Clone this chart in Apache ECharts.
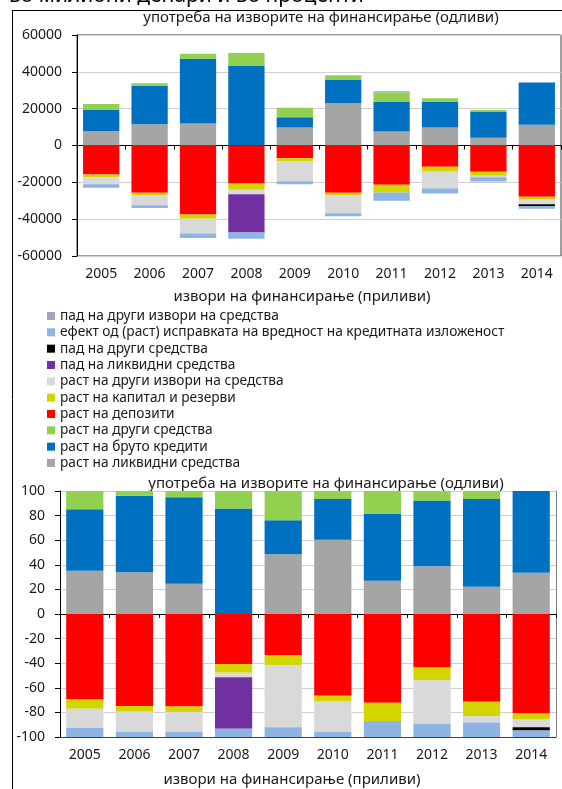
<!DOCTYPE html>
<html>
<head>
<meta charset="utf-8">
<script src="https://cdn.jsdelivr.net/npm/echarts@6/dist/echarts.min.js"></script>
<style>
  html, body { margin: 0; padding: 0; background: #fff; }
  #chart { width: 562px; height: 789px; }
</style>
</head>
<body>
<div id="chart"></div>
<script>
// години
const years = ['2005', '2006', '2007', '2008', '2009', '2010', '2011', '2012', '2013', '2014']
const yTicksAbs = [-60000, 60000, 20000]
const yTicksPct = [-100, 100, 20]

// во милиони денари (употреба = позитивно, извори = негативно)
const liquidGrowth = [7800, 11500, 12000, 0, 9800, 22900, 7600, 9800, 4200, 11300]
const loansGrowth = [11500, 20900, 35100, 43100, 5600, 12700, 16000, 13800, 14000, 22900]
const otherAssetsGrowth = [3200, 1400, 2700, 7100, 5100, 2500, 5300, 2000, 1100, 0]
const otherSourcesFall = [0, 0, 0, 0, 0, 0, 600, 0, 0, 0]
const deposits = [-15800, -25600, -37500, -20700, -6900, -25600, -21300, -11500, -14200, -27800]
const capital = [-1500, -1500, -2300, -3300, -1800, -1600, -4200, -2700, -2200, -1600]
const otherSourcesGrowth = [-3800, -5400, -8000, -2500, -10700, -9600, 0, -9100, -900, -2500]
const liquidFall = [0, 0, 0, -20800, 0, 0, 0, 0, 0, 0]
const otherAssetsFall = [0, 0, 0, 0, 0, 0, 0, 0, 0, -1100]
const impairment = [-1800, -1500, -2400, -3400, -1600, -1600, -4500, -2700, -2300, -1400]

// во проценти
const liquidGrowthPct = [35.1, 34.0, 24.6, 0, 48.6, 60.3, 27.0, 38.9, 22.2, 33.5]
const loansGrowthPct = [50.0, 62.2, 70.3, 85.7, 27.6, 33.2, 54.6, 53.3, 71.3, 66.5]
const otherAssetsGrowthPct = [14.9, 3.8, 5.1, 14.3, 23.8, 6.5, 18.4, 7.8, 6.5, 0]
const otherSourcesFallPct = [0, 0, 0, 0, 0, 0, 0, 0, 0, 0]
const depositsPct = [-69.1, -74.8, -75.3, -40.7, -33.3, -66.4, -72.1, -43.4, -71.3, -80.8]
const capitalPct = [-7.9, -4.6, -4.4, -7.0, -8.4, -4.3, -14.9, -10.5, -11.9, -4.6]
const otherSourcesGrowthPct = [-15.4, -16.3, -16.0, -3.8, -50.4, -25.2, 0, -35.3, -5.1, -6.7]
const liquidFallPct = [0, 0, 0, -41.7, 0, 0, 0, 0, 0, 0]
const otherAssetsFallPct = [0, 0, 0, 0, 0, 0, 0, 0, 0, -2.7]
const impairmentPct = [-7.6, -4.3, -4.3, -6.8, -7.9, -4.1, -13.0, -10.8, -11.7, -5.2]

const seriesDefs = [
  { name: 'раст на ликвидни средства', color: '#A5A5A5', abs: liquidGrowth, pct: liquidGrowthPct },
  { name: 'раст на бруто кредити', color: '#0070C0', abs: loansGrowth, pct: loansGrowthPct },
  { name: 'раст на други средства', color: '#92D050', abs: otherAssetsGrowth, pct: otherAssetsGrowthPct },
  { name: 'раст на депозити', color: '#FF0000', abs: deposits, pct: depositsPct },
  { name: 'раст на капитал и резерви', color: '#D4D400', abs: capital, pct: capitalPct },
  { name: 'раст на други извори на средства', color: '#D9D9D9', abs: otherSourcesGrowth, pct: otherSourcesGrowthPct },
  { name: 'пад на ликвидни средства', color: '#7030A0', abs: liquidFall, pct: liquidFallPct },
  { name: 'пад на други средства', color: '#000000', abs: otherAssetsFall, pct: otherAssetsFallPct },
  { name: 'ефект од (раст) исправката на вредност на кредитната изложеност', color: '#8EB4E3', abs: impairment, pct: impairmentPct },
  { name: 'пад на други извори на средства', color: '#A9A0C6', abs: otherSourcesFall, pct: otherSourcesFallPct }
]

const FONT = 'Noto Sans'
const FS = 14
const TITLE_FONT = '15px "Noto Sans"'
const TXT = '#1a1a1a'

const chart = echarts.init(document.getElementById('chart'))

const series = []
seriesDefs.forEach(s => {
  series.push({
    name: s.name, type: 'bar', stack: 'abs', data: s.abs,
    xAxisIndex: 0, yAxisIndex: 0, barCategoryGap: '25%',
    itemStyle: { color: s.color }, emphasis: { disabled: true }
  })
  series.push({
    name: s.name, type: 'bar', stack: 'pct', data: s.pct,
    xAxisIndex: 2, yAxisIndex: 1, barCategoryGap: '25%',
    itemStyle: { color: s.color }, emphasis: { disabled: true }
  })
})

const labelAxis = (gridIndex) => ({
  type: 'category', gridIndex, data: years, position: 'bottom',
  axisLine: { onZero: false, show: gridIndex === 1, lineStyle: { color: '#404040' } },
  axisTick: { show: false },
  axisLabel: { color: TXT, fontFamily: FONT, fontSize: FS, margin: 11 }
})
const zeroAxis = (gridIndex) => ({
  type: 'category', gridIndex, data: years, position: 'bottom',
  axisLine: { onZero: true, lineStyle: { color: '#000', width: 1 } },
  axisTick: { show: true, length: 4, lineStyle: { color: '#000' } },
  axisLabel: { show: false }
})
const valueAxis = (gridIndex, t) => ({
  type: 'value', gridIndex, min: t[0], max: t[1], interval: t[2],
  axisLine: { show: true, lineStyle: { color: '#000' } },
  axisTick: { show: true, length: 5, lineStyle: { color: '#000' } },
  axisLabel: { color: TXT, fontFamily: FONT, fontSize: FS, margin: 15, formatter: v => String(v) },
  splitLine: { show: true, lineStyle: { color: '#D0D0D0', width: 1 } }
})

chart.setOption({
  animation: false,
  textStyle: { fontFamily: FONT },
  grid: [
    { left: 77, right: 1, top: 35, bottom: 533, show: true, borderColor: '#404040', borderWidth: 1, backgroundColor: 'transparent' },
    { left: 60, right: 6, top: 491, bottom: 52 }
  ],
  xAxis: [labelAxis(0), zeroAxis(0), labelAxis(1), zeroAxis(1)],
  yAxis: [
    valueAxis(0, yTicksAbs),
    valueAxis(1, yTicksPct),
    {
      type: 'value', gridIndex: 1, position: 'right', min: yTicksPct[0], max: yTicksPct[1], interval: yTicksPct[2],
      axisLine: { show: true, lineStyle: { color: '#808080' } },
      axisTick: { show: false }, axisLabel: { show: false }, splitLine: { show: false }
    }
  ],
  legend: {
    orient: 'vertical', left: 42, top: 303, itemGap: 0.33,
    itemWidth: 8, itemHeight: 8, icon: 'rect',
    data: seriesDefs.slice().reverse().map(s => s.name),
    textStyle: { color: TXT, fontFamily: FONT, fontSize: 13.7, lineHeight: 16 }
  },
  graphic: [
    { type: 'line', shape: { x1: 12.5, y1: 10, x2: 12.5, y2: 789 }, style: { stroke: '#000', lineWidth: 1 } },
    { type: 'line', shape: { x1: 12, y1: 10.5, x2: 562, y2: 10.5 }, style: { stroke: '#000', lineWidth: 1 } },
    { type: 'text', left: 9, top: -14, style: { text: 'во милиони денари и во проценти', fill: '#000', font: '21px "Noto Sans"' } },
    { type: 'text', x: 321, y: 18, style: { text: 'употреба на изворите на финансирање (одливи)', fill: TXT, font: TITLE_FONT, textAlign: 'center', textVerticalAlign: 'middle' } },
    { type: 'text', x: 302, y: 297, style: { text: 'извори на финансирање (приливи)', fill: TXT, font: TITLE_FONT, textAlign: 'center', textVerticalAlign: 'middle' } },
    { type: 'text', x: 326, y: 484, style: { text: 'употреба на изворите на финансирање (одливи)', fill: TXT, font: TITLE_FONT, textAlign: 'center', textVerticalAlign: 'middle' } },
    { type: 'text', x: 292, y: 780, style: { text: 'извори на финансирање (приливи)', fill: TXT, font: TITLE_FONT, textAlign: 'center', textVerticalAlign: 'middle' } }
  ],
  series
})
</script>
</body>
</html>
